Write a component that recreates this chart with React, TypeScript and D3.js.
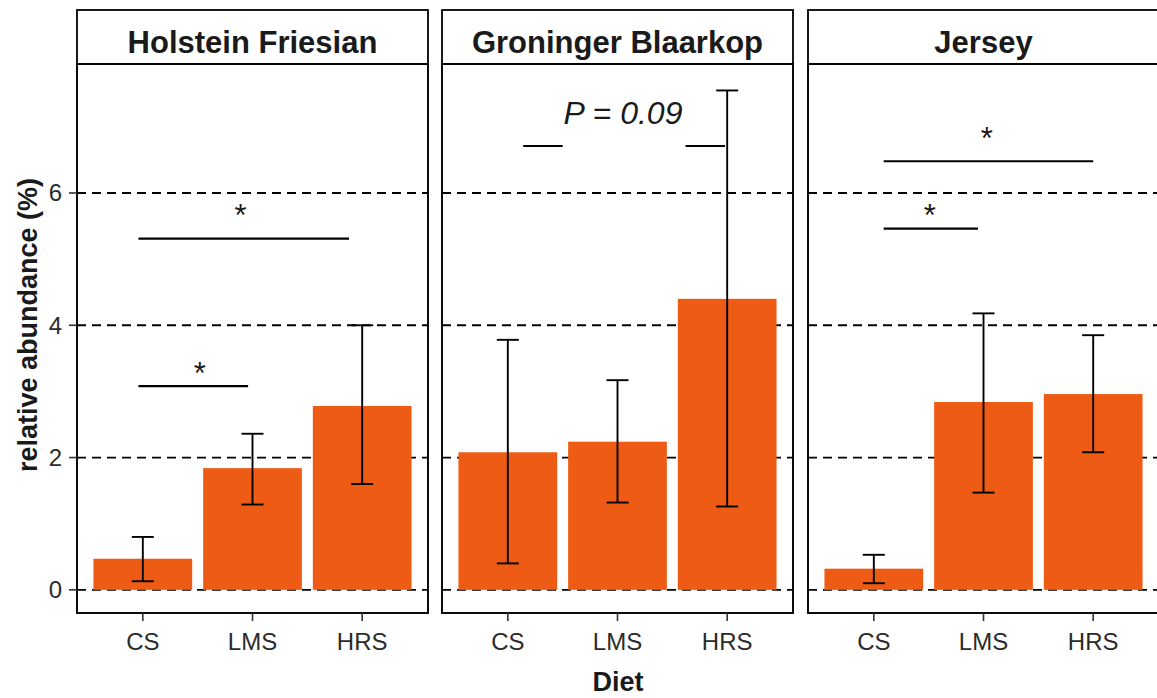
import React from "react";
import * as d3 from "d3";

const breeds = ["Holstein Friesian", "Groninger Blaarkop", "Jersey"];
const diets = ["CS", "LMS", "HRS"];
const means = [
  [0.47, 1.84, 2.78],
  [2.08, 2.24, 4.40],
  [0.32, 2.84, 2.96],
];
const errLow = [
  [0.13, 1.29, 1.60],
  [0.40, 1.32, 1.26],
  [0.10, 1.47, 2.08],
];
const errHigh = [
  [0.80, 2.36, 4.00],
  [3.78, 3.17, 7.55],
  [0.53, 4.18, 3.85],
];
const yTicks = [0, 2, 4, 6];
// significance lines: panel, x start (category index), x end, y value
const sigLines = [
  { panel: 0, x1: -0.04, x2: 0.96, y: 3.08 },
  { panel: 0, x1: -0.04, x2: 1.88, y: 5.31 },
  { panel: 1, x1: 0.14, x2: 0.5, y: 6.71 },
  { panel: 1, x1: 1.62, x2: 1.98, y: 6.71 },
  { panel: 2, x1: 0.09, x2: 0.95, y: 5.46 },
  { panel: 2, x1: 0.09, x2: 2.0, y: 6.48 },
];
const sigLabels = [
  { panel: 0, x: 0.52, y: 3.37, text: "*" },
  { panel: 0, x: 0.89, y: 5.76, text: "*" },
  { panel: 1, x: 1.05, y: 7.05, text: "P = 0.09" },
  { panel: 2, x: 0.51, y: 5.76, text: "*" },
  { panel: 2, x: 1.03, y: 6.92, text: "*" },
];

const W = 1157;
const H = 698;
const panelX = [77, 442, 808];
const panelW = 351;
const stripTop = 10;
const plotTop = 64;
const plotBottom = 613;
const barColor = "#ED5B14";
const font = "'Liberation Sans', Arial, Helvetica, sans-serif";

export default function App() {
  const y = d3.scaleLinear().domain([-0.35, 7.95]).range([plotBottom, plotTop]);
  return (
    <svg
      width={W}
      height={H}
      style={{ position: "absolute", left: 0, top: 0, background: "#fff" }}
      fontFamily={font}
    >
      {breeds.map((breed, p) => {
        const x0 = panelX[p];
        const x = d3
          .scaleBand()
          .domain(diets)
          .range([x0, x0 + panelW])
          .paddingInner(0.1)
          .paddingOuter(0.15);
        const step = x.step();
        const cx = (i: number) => x0 + (i + 0.6) * step;
        return (
          <g key={breed}>
            {/* strip */}
            <rect
              x={x0}
              y={stripTop}
              width={panelW}
              height={plotTop - stripTop}
              fill="#fff"
              stroke="#000"
              strokeWidth={1.8}
            />
            <text
              x={x0 + panelW / 2}
              y={53}
              textAnchor="middle"
              fontWeight="bold"
              fontSize={31}
              fill="#1a1a1a"
            >
              {breed}
            </text>
            {/* grid */}
            {yTicks.map((t) => (
              <line
                key={t}
                x1={x0}
                x2={x0 + panelW}
                y1={y(t)}
                y2={y(t)}
                stroke="#000"
                strokeWidth={1.8}
                strokeDasharray="9,6"
              />
            ))}
            {/* bars */}
            {diets.map((d, i) => (
              <rect
                key={d}
                x={x(d)}
                width={x.bandwidth()}
                y={y(means[p][i])}
                height={y(0) - y(means[p][i])}
                fill={barColor}
              />
            ))}
            {/* error bars */}
            {diets.map((d, i) => {
              const c = (x(d) as number) + x.bandwidth() / 2;
              return (
                <g key={d} stroke="#000" strokeWidth={1.9}>
                  <line x1={c} x2={c} y1={y(errLow[p][i])} y2={y(errHigh[p][i])} />
                  <line x1={c - 11} x2={c + 11} y1={y(errLow[p][i])} y2={y(errLow[p][i])} />
                  <line x1={c - 11} x2={c + 11} y1={y(errHigh[p][i])} y2={y(errHigh[p][i])} />
                </g>
              );
            })}
            {/* significance */}
            {sigLines
              .filter((s) => s.panel === p)
              .map((s, k) => (
                <line
                  key={k}
                  x1={cx(s.x1)}
                  x2={cx(s.x2)}
                  y1={y(s.y)}
                  y2={y(s.y)}
                  stroke="#000"
                  strokeWidth={2.2}
                />
              ))}
            {sigLabels
              .filter((s) => s.panel === p)
              .map((s, k) =>
                s.text === "*" ? (
                  <text
                    key={k}
                    x={cx(s.x)}
                    y={y(s.y) + 17}
                    textAnchor="middle"
                    fontSize={31}
                    fill="#1a1a1a"
                  >
                    *
                  </text>
                ) : (
                  <text
                    key={k}
                    x={cx(s.x)}
                    y={y(s.y)}
                    textAnchor="middle"
                    fontSize={32}
                    fontStyle="italic"
                    fill="#1a1a1a"
                  >
                    {s.text}
                  </text>
                )
              )}
            {/* panel border */}
            <rect
              x={x0}
              y={plotTop}
              width={panelW}
              height={plotBottom - plotTop}
              fill="none"
              stroke="#000"
              strokeWidth={1.9}
            />
            {/* x axis ticks */}
            {diets.map((d) => {
              const c = (x(d) as number) + x.bandwidth() / 2;
              return (
                <g key={d}>
                  <line x1={c} x2={c} y1={plotBottom} y2={plotBottom + 8} stroke="#333" strokeWidth={1.6} />
                  <text x={c} y={650} textAnchor="middle" fontSize={24} fill="#2b2b2b">
                    {d}
                  </text>
                </g>
              );
            })}
          </g>
        );
      })}
      {/* y axis */}
      {yTicks.map((t) => (
        <g key={t}>
          <line x1={69} x2={77} y1={y(t)} y2={y(t)} stroke="#333" strokeWidth={1.6} />
          <text x={62} y={y(t) + 8.5} textAnchor="end" fontSize={24} fill="#2b2b2b">
            {t}
          </text>
        </g>
      ))}
      <text
        transform={`translate(37,325) rotate(-90)`}
        textAnchor="middle"
        fontWeight="bold"
        fontSize={27}
        fill="#1a1a1a"
      >
        relative abundance (%)
      </text>
      <text x={618} y={691} textAnchor="middle" fontWeight="bold" fontSize={27} fill="#1a1a1a">
        Diet
      </text>
    </svg>
  );
}
